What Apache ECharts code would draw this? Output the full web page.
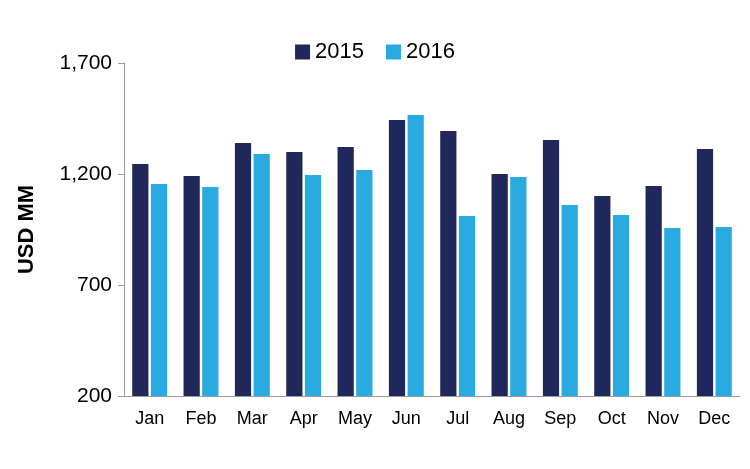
<!DOCTYPE html>
<html>
<head>
<meta charset="utf-8">
<script src="https://cdn.jsdelivr.net/npm/echarts@6/dist/echarts.min.js"></script>
<style>html,body{margin:0;padding:0;background:#fff}</style>
</head>
<body>
<div id="main" style="width:750px;height:469px"></div>
<script>
const months = ['Jan', 'Feb', 'Mar', 'Apr', 'May', 'Jun', 'Jul', 'Aug', 'Sep', 'Oct', 'Nov', 'Dec'];
const sales2015 = [1245, 1191, 1340, 1299, 1322, 1443, 1394, 1200, 1353, 1101, 1146, 1313];
const sales2016 = [1155, 1142, 1290, 1196, 1218, 1466, 1011, 1187, 1060, 1015, 957, 961];

const myChart = echarts.init(document.getElementById('main'));
const option = {
    animation: false,
    textStyle: { fontFamily: 'Liberation Sans, Arial, sans-serif' },
    legend: {
        top: 36,
        left: 'center',
        icon: 'rect',
        itemWidth: 15, itemHeight: 15, itemGap: 22,
        textStyle: { fontSize: 22, color: '#000' },
        data: ['2015', '2016']
    },
    grid: { left: 124, right: 10, top: 63, bottom: 73 },
    xAxis: {
        type: 'category',
        data: months,
        axisLine: { lineStyle: { color: '#999' } },
        axisTick: { show: false },
        axisLabel: { fontSize: 18, color: '#000', margin: 14 }
    },
    yAxis: {
        type: 'value',
        min: 200, max: 1700, interval: 500,
        name: 'USD MM',
        nameLocation: 'middle',
        nameGap: 86,
        nameTextStyle: { fontSize: 22, fontWeight: 'bold', color: '#000' },
        axisLine: { show: true, lineStyle: { color: '#999' } },
        axisTick: { show: true, length: 6, lineStyle: { color: '#999' } },
        splitLine: { show: false },
        axisLabel: {
            fontSize: 21, color: '#000', margin: 12,
            formatter: v => v.toLocaleString('en-US')
        }
    },
    series: [
        { name: '2015', type: 'bar', data: sales2015, barGap: '15%', barCategoryGap: '32%', itemStyle: { color: '#20285b' } },
        { name: '2016', type: 'bar', data: sales2016, itemStyle: { color: '#29abe2' } }
    ]
};
option && myChart.setOption(option);
</script>
</body>
</html>
